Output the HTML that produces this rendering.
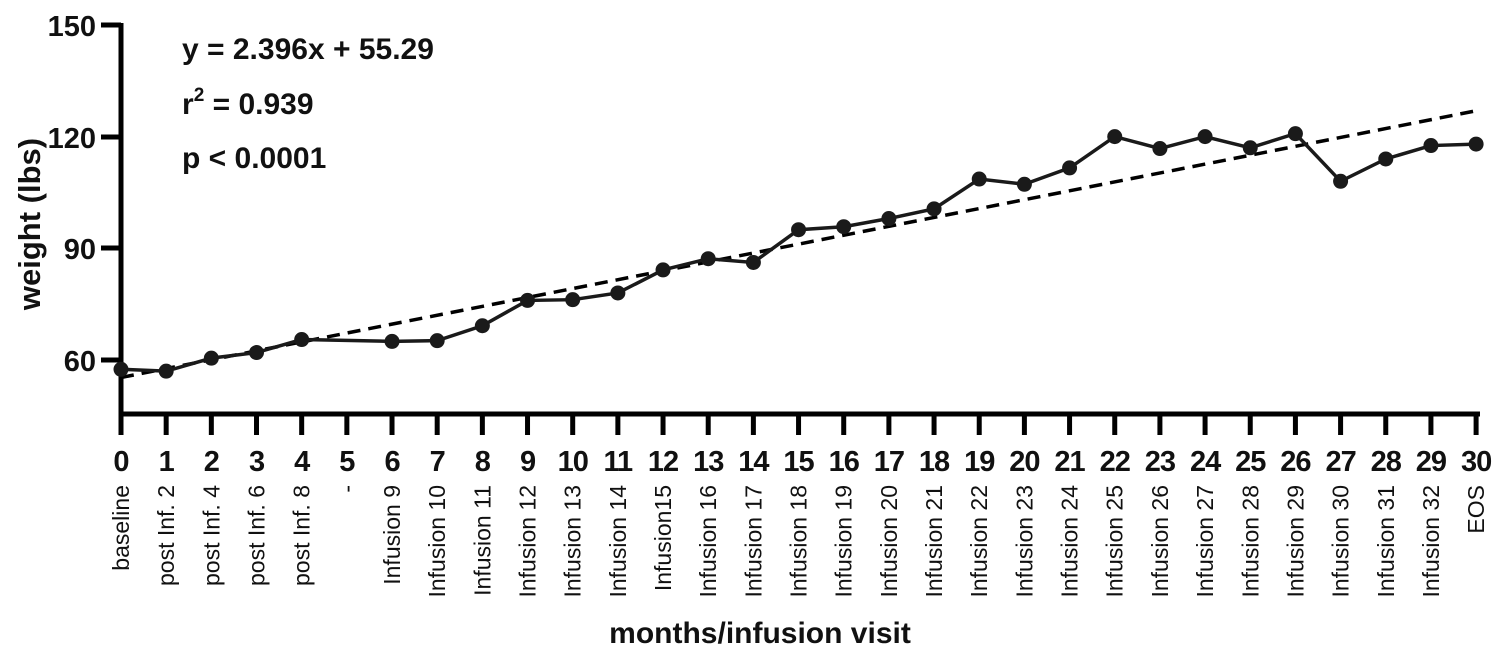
<!DOCTYPE html>
<html><head><style>body{margin:0;background:#fff}svg{display:block}</style></head><body>
<svg width="1500" height="661" xmlns="http://www.w3.org/2000/svg" font-family="Liberation Sans, Arial, sans-serif">
<rect width="1500" height="661" fill="#fff"/>
<g stroke="#000" stroke-width="5" fill="none">
<line x1="121" y1="23" x2="121" y2="416"/>
<line x1="119" y1="414" x2="1480" y2="414"/>
<line x1="101" y1="25" x2="121" y2="25"/>
<line x1="101" y1="137" x2="121" y2="137"/>
<line x1="101" y1="248" x2="121" y2="248"/>
<line x1="101" y1="360" x2="121" y2="360"/>
</g>
<g font-size="29" font-weight="bold" text-anchor="end" fill="#111">
<text x="96" y="36">150</text><text x="96" y="148">120</text><text x="96" y="259">90</text><text x="96" y="371">60</text>
</g>
<text transform="translate(40,224) rotate(-90)" font-size="31" font-weight="bold" text-anchor="middle" fill="#111">weight (lbs)</text>
<text x="760" y="643" font-size="30" font-weight="bold" text-anchor="middle" fill="#111">months/infusion visit</text>
<g font-size="30" font-weight="bold" fill="#111">
<text x="182" y="59">y = 2.396x + 55.29</text>
<text x="182" y="114">r<tspan font-size="19" dy="-13">2</tspan><tspan dy="13"> = 0.939</tspan></text>
<text x="182" y="168">p &lt; 0.0001</text>
</g>
<g id="ax"></g>
<line x1="121" y1="377.5" x2="1480" y2="110" stroke="#000" stroke-width="3.5" stroke-dasharray="13,8"/>
<polyline id="pl" fill="none" stroke="#1a1a1a" stroke-width="3.5"/>
<g id="pts" fill="#1a1a1a"></g>
<script>
var NS="http://www.w3.org/2000/svg";
var labels=["baseline","post Inf. 2","post Inf. 4","post Inf. 6","post Inf. 8","-","Infusion 9","Infusion 10","Infusion 11","Infusion 12","Infusion 13","Infusion 14","Infusion15","Infusion 16","Infusion 17","Infusion 18","Infusion 19","Infusion 20","Infusion 21","Infusion 22","Infusion 23","Infusion 24","Infusion 25","Infusion 26","Infusion 27","Infusion 28","Infusion 29","Infusion 30","Infusion 31","Infusion 32","EOS"];
var data=[[0,57.5],[1,57],[2,60.5],[3,62],[4,65.5],[6,65],[7,65.2],[8,69.2],[9,76],[10,76.2],[11,78],[12,84.2],[13,87.2],[14,86.2],[15,95],[16,95.8],[17,98],[18,100.6],[19,108.6],[20,107.2],[21,111.6],[22,120],[23,116.8],[24,120],[25,117],[26,120.8],[27,108],[28,114],[29,117.6],[30,118]];
function X(i){return 121+i*45.17;}
function Y(v){return 360-(v-60)*3.723;}
var ax=document.getElementById("ax");
for(var i=0;i<=30;i++){
 var l=document.createElementNS(NS,"line");l.setAttribute("x1",X(i));l.setAttribute("x2",X(i));l.setAttribute("y1",414);l.setAttribute("y2",435);l.setAttribute("stroke","#000");l.setAttribute("stroke-width","5");ax.appendChild(l);
 var t=document.createElementNS(NS,"text");t.setAttribute("x",X(i));t.setAttribute("y",471);t.setAttribute("font-size","29");t.setAttribute("font-weight","bold");t.setAttribute("text-anchor","middle");t.setAttribute("fill","#111");t.setAttribute("letter-spacing","-1");t.textContent=i;ax.appendChild(t);
 var c=document.createElementNS(NS,"text");c.setAttribute("transform","translate("+(X(i)+8)+",485) rotate(-90)");c.setAttribute("font-size","23");c.setAttribute("text-anchor","end");c.setAttribute("fill","#111");c.textContent=labels[i];ax.appendChild(c);
}
var pts="",g=document.getElementById("pts");
data.forEach(function(d){var x=X(d[0]),y=Y(d[1]);pts+=x+","+y+" ";var c=document.createElementNS(NS,"circle");c.setAttribute("cx",x);c.setAttribute("cy",y);c.setAttribute("r",7.5);g.appendChild(c);});
document.getElementById("pl").setAttribute("points",pts);
</script>
</svg>
</body></html>
